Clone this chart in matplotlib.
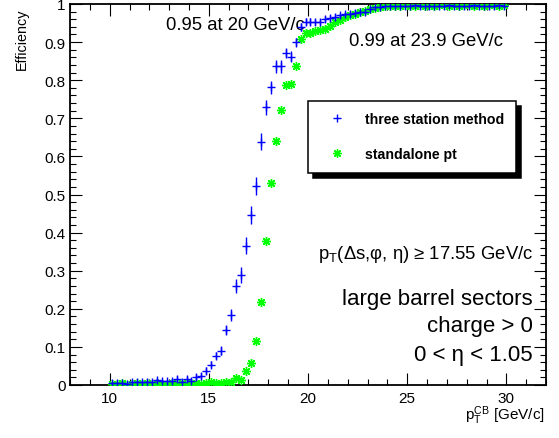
import matplotlib
matplotlib.use("Agg")
import matplotlib.pyplot as plt
from matplotlib.lines import Line2D
from matplotlib.ticker import MultipleLocator

plt.rcParams['font.family'] = ['Liberation Sans', 'DejaVu Sans']
plt.rcParams['mathtext.fontset'] = 'custom'
plt.rcParams['mathtext.rm'] = 'Liberation Sans'
plt.rcParams['mathtext.it'] = 'Liberation Sans:italic'
plt.rcParams['mathtext.bf'] = 'Liberation Sans:bold'

# bin centres in pT (GeV/c)
pt = [10.125, 10.375, 10.625, 10.875, 11.125, 11.375, 11.625, 11.875,
      12.125, 12.375, 12.625, 12.875, 13.125, 13.375, 13.625, 13.875,
      14.125, 14.375, 14.625, 14.875, 15.125, 15.375, 15.625, 15.875,
      16.125, 16.375, 16.625, 16.875, 17.125, 17.375, 17.625, 17.875,
      18.125, 18.375, 18.625, 18.875, 19.125, 19.375, 19.625, 19.875,
      20.125, 20.375, 20.625, 20.875, 21.125, 21.375, 21.625, 21.875,
      22.125, 22.375, 22.625, 22.875, 23.125, 23.375, 23.625, 23.875,
      24.125, 24.375, 24.625, 24.875, 25.125, 25.375, 25.625, 25.875,
      26.125, 26.375, 26.625, 26.875, 27.125, 27.375, 27.625, 27.875,
      28.125, 28.375, 28.625, 28.875, 29.125, 29.375, 29.625, 29.875]

# three station method
eff_three = [0.004, 0.004, 0.004, 0.002, 0.007, 0.008, 0.008, 0.008,
             0.007, 0.013, 0.010, 0.010, 0.010, 0.016, 0.009, 0.016,
             0.010, 0.022, 0.024, 0.038, 0.053, 0.077, 0.090, 0.144,
             0.184, 0.260, 0.288, 0.366, 0.446, 0.523, 0.639, 0.729,
             0.781, 0.836, 0.836, 0.871, 0.862, 0.899, 0.940, 0.954,
             0.954, 0.952, 0.952, 0.961, 0.963, 0.966, 0.970, 0.974,
             0.974, 0.976, 0.978, 0.978, 0.987, 0.991, 0.991, 0.995,
             0.996, 0.994, 0.995, 0.996, 0.995, 0.997, 0.995, 0.994,
             0.996, 0.995, 0.996, 0.995, 0.997, 0.996, 0.995, 0.994,
             0.996, 0.997, 0.995, 0.996, 0.995, 0.996, 0.997, 0.996]

err_three = [0.004, 0.004, 0.004, 0.003, 0.005, 0.005, 0.005, 0.005,
             0.005, 0.006, 0.005, 0.005, 0.005, 0.007, 0.005, 0.007,
             0.006, 0.008, 0.008, 0.009, 0.009, 0.010, 0.012, 0.014,
             0.016, 0.018, 0.021, 0.023, 0.024, 0.023, 0.022, 0.020,
             0.018, 0.016, 0.016, 0.014, 0.014, 0.012, 0.010, 0.008,
             0.008, 0.008, 0.008, 0.007, 0.007, 0.007, 0.006, 0.006,
             0.006, 0.006, 0.005, 0.005, 0.004, 0.003, 0.003, 0.003,
             0.003, 0.003, 0.003, 0.003, 0.003, 0.003, 0.003, 0.003,
             0.003, 0.003, 0.003, 0.003, 0.003, 0.003, 0.003, 0.003,
             0.003, 0.003, 0.003, 0.003, 0.003, 0.003, 0.003, 0.003]

# standalone pt
eff_standalone = [0.003, 0.002, 0.004, 0.001, 0.003, 0.005, 0.002, 0.004,
                  0.003, 0.006, 0.002, 0.000, 0.004, 0.003, 0.005, 0.002,
                  0.004, 0.006, 0.003, 0.005, 0.007, 0.004, 0.006, 0.008,
                  0.009, 0.019, 0.012, 0.036, 0.057, 0.116, 0.217, 0.377,
                  0.529, 0.641, 0.723, 0.787, 0.790, 0.838, 0.908, 0.923,
                  0.925, 0.928, 0.932, 0.934, 0.943, 0.952, 0.958, 0.965,
                  0.970, 0.974, 0.978, 0.982, 0.986, 0.990, 0.991, 0.994,
                  0.995, 0.996, 0.994, 0.997, 0.995, 0.996, 0.998, 0.995,
                  0.997, 0.996, 0.998, 0.997, 0.995, 0.998, 0.996, 0.997,
                  0.998, 0.996, 0.997, 0.995, 0.998, 0.997, 0.996, 0.997]

fig = plt.figure(figsize=(5.59, 4.39), dpi=100)
ax = fig.add_axes([70/559, 53/439, 476/559, 381/439])

ax.plot(pt, eff_standalone, ls="none", marker=(8, 2, 0), color="#00ff00",
        ms=6.5, mew=1.0, zorder=3)
ax.errorbar(pt, eff_three, yerr=err_three, fmt="+", color="blue",
            ms=5.5, mew=1.0, elinewidth=1.0, capsize=0, zorder=4)

ax.set_xlim(8, 32)
ax.set_ylim(0, 1)
ax.xaxis.set_major_locator(MultipleLocator(5))
ax.xaxis.set_minor_locator(MultipleLocator(1))
ax.yaxis.set_major_locator(MultipleLocator(0.1))
ax.yaxis.set_minor_locator(MultipleLocator(0.02))
ax.set_yticks([0, 0.1, 0.2, 0.3, 0.4, 0.5, 0.6, 0.7, 0.8, 0.9, 1.0])
ax.set_yticklabels(["0", "0.1", "0.2", "0.3", "0.4", "0.5", "0.6", "0.7", "0.8", "0.9", "1"])
ax.tick_params(which="both", direction="in", top=True, right=True, width=0.8,
               labelsize=11)
ax.tick_params(which="major", length=8.6)
ax.tick_params(which="minor", length=4.3)
ax.tick_params(axis="y", pad=3)
ax.tick_params(axis="x", pad=4)
for s in ax.spines.values():
    s.set_linewidth(1.3)

# texts
ax.text(12.84, 0.945, "0.95 at 20 GeV/c", fontsize=13.3, ha="left", va="center")
ax.text(22.07, 0.903, "0.99 at 23.9 GeV/c", fontsize=13.3, ha="left", va="center")
ax.text(31.35, 0.344, r"p$_\mathregular{T}$(Δs,φ, η) ≥ 17.55 GeV/c", fontsize=13.3,
        ha="right", va="center")
ax.text(31.35, 0.226, "large barrel sectors", fontsize=16, ha="right", va="center")
ax.text(31.35, 0.157, "charge > 0", fontsize=16, ha="right", va="center")
ax.text(31.35, 0.081, "0 < η < 1.05", fontsize=16, ha="right", va="center")

fig.text(545/559, 1 - 420/439, r"p$_\mathregular{T}^\mathregular{CB}$ [GeV/c]",
         fontsize=11, ha="right", va="baseline")
fig.text(22/559, 1 - 8/439, "Efficiency", fontsize=10.4, rotation=90,
         ha="center", va="top")

# legend
h_three = Line2D([], [], ls="none", marker="+", color="blue", ms=5.5, mew=1)
h_sa = Line2D([], [], ls="none", marker=(8, 2, 0), color="#00ff00", ms=6, mew=1)
leg = ax.legend([h_three, h_sa], ["three station method", "standalone pt"],
                loc="upper left", bbox_to_anchor=(0.5006, 0.746), borderaxespad=0,
                prop={"family": "Liberation Sans", "weight": "bold", "size": 10.2},
                fancybox=False, edgecolor="black", framealpha=1,
                shadow={"ox": 3.6, "oy": -3.6, "color": "black", "alpha": 1},
                handlelength=2.4, handletextpad=0.8, labelspacing=1.5,
                borderpad=0.8, numpoints=1)
leg.get_frame().set_linewidth(1.1)

fig.savefig("out.png", dpi=100)
